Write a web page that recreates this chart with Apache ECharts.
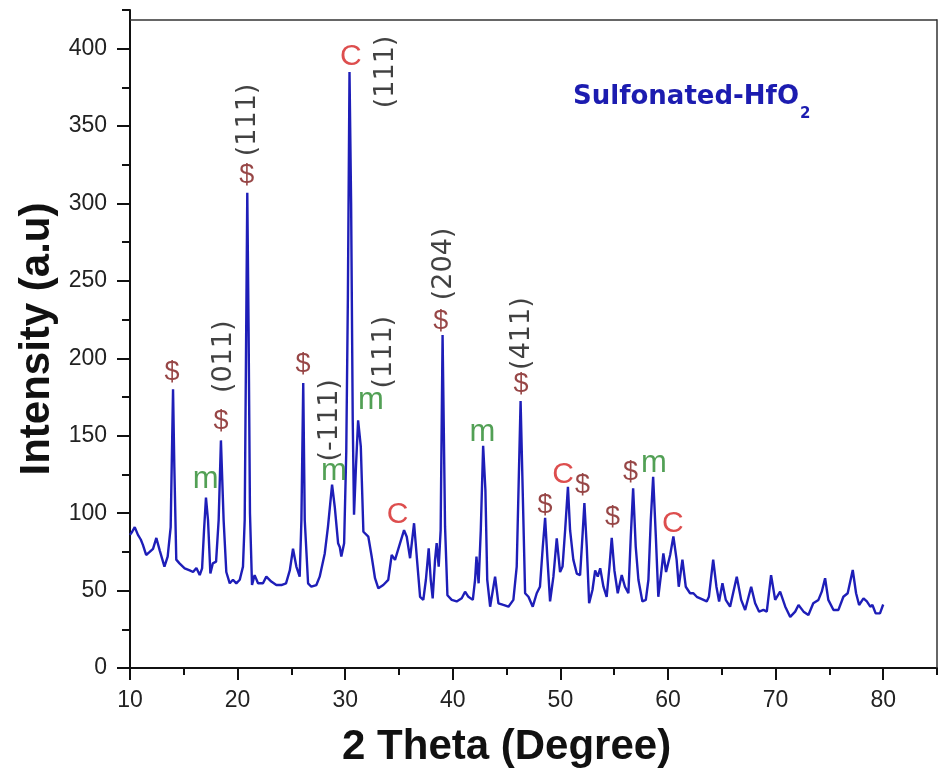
<!DOCTYPE html>
<html>
<head>
<meta charset="utf-8">
<script src="https://cdn.jsdelivr.net/npm/echarts@6.0.0/dist/echarts.min.js"></script>
<style>html,body{margin:0;padding:0;background:#fff;}#c{width:948px;height:775px;}</style>
</head>
<body>
<div id="c"></div>
<script>
// ---- Data ----
const twoTheta = [10.0,10.2,10.44,10.74,11.0,11.2,11.5,11.83,12.14,12.45,12.76,13.2,13.5,13.78,13.9,14.0,14.12,14.3,14.6,15.08,15.55,15.86,16.17,16.48,16.7,16.88,17.06,17.25,17.47,17.7,18.0,18.24,18.45,18.7,18.95,19.27,19.57,19.88,20.2,20.5,20.66,20.8,20.9,21.02,21.15,21.34,21.58,21.9,22.36,22.67,23.13,23.6,24.07,24.5,24.85,25.15,25.46,25.77,25.93,26.1,26.24,26.55,26.85,27.32,27.63,28.1,28.4,28.78,29.03,29.34,29.5,29.64,29.9,30.1,30.25,30.4,30.55,30.7,30.82,31.0,31.2,31.45,31.69,32.15,32.46,32.77,33.08,33.54,34.0,34.32,34.63,35.1,35.47,35.72,36.03,36.4,36.65,36.96,37.26,37.5,37.76,37.95,38.13,38.35,38.5,38.69,38.87,39.05,39.28,39.5,39.9,40.36,40.83,41.14,41.45,41.86,42.07,42.2,42.4,42.6,42.82,43.03,43.2,43.47,43.93,44.24,44.7,45.17,45.63,45.94,46.3,46.56,46.72,47.03,47.43,47.8,48.1,48.36,48.58,48.8,49.04,49.35,49.66,49.97,50.2,50.45,50.7,50.9,51.2,51.52,51.83,52.05,52.23,52.45,52.67,52.98,53.23,53.47,53.7,54.0,54.3,54.56,54.77,55.02,55.33,55.7,56.0,56.32,56.54,56.76,57.0,57.25,57.62,57.94,58.18,58.4,58.62,58.87,59.1,59.36,59.57,59.82,60.2,60.5,60.8,61.0,61.34,61.65,62.05,62.36,62.67,62.99,63.3,63.6,63.8,64.2,64.5,64.75,65.06,65.37,65.77,66.39,66.8,67.17,67.73,68.1,68.47,68.87,69.18,69.58,69.96,70.42,70.9,71.36,71.82,72.13,72.6,73.05,73.5,73.98,74.29,74.6,74.9,75.38,75.84,76.3,76.7,77.17,77.48,77.76,78.17,78.48,78.8,79.0,79.3,79.7,80.0];
const intensity = [86,88,91,86,83,79.5,73,75,77,84,76,65.5,72,91,140,180,130,70,67.6,64.4,63,62,64.6,60,64.4,89,110,95.6,61,67.6,68.7,95.6,147,95.6,62,54.7,57,54.7,57,65.5,95.6,220,307,220,100,53.6,60,54.7,54.7,59,55.8,53.6,53.6,54.7,63,77,65.5,59,95.6,184,95.6,54.7,52.5,53.6,59,74,91.3,118.5,104,80.6,78,72,80.6,140,240,385,300,160,99,130,160,143,88,84.8,72,58,51.5,53.6,56.9,73,69.8,80.6,89,84.8,70.9,93.5,72,46,44,57,77.3,57,45,69.8,80.6,65.5,89,215,91.3,47,44,43,45,49.3,46,44,57,72,54.7,89,143.5,115,57,39.6,59,41.8,40.7,39.6,44,65.5,172.5,95.6,48.3,46,39.6,48.3,52.5,78,97,70,43,59,83.8,62,65.5,90,117,89,70,61,60,85,106.6,78.4,41.8,50.4,63,59,64.4,52.5,46,65.5,84,63,48.3,60,52.5,48.3,84.8,116,78.4,57,43,44,57,95.6,123.5,84.8,46,61,74,62,73,85,70,52.5,70,52.5,48.3,48.3,46,45,44,43,46,70,52.5,43,54.7,44,39.6,59,44,37.5,52.5,41.8,36.4,37.5,36.4,60,44,49.3,39.6,33,36.4,40.7,36.4,34.2,41.8,44,49.3,58,44,37.5,37.5,46,48.3,63.3,48.3,40.7,45,43,39.6,40.7,35.3,35.3,41];

// Peak markers: [2θ, intensity at label centre]
const dollarMarks = [[13.9,191],[18.46,159],[20.84,318],[26.08,196],[38.89,224],[46.34,183],[48.57,105],[52.05,118],[54.84,97],[56.51,126]];
const cMarks = [[30.52,395],[34.86,99],[50.24,125],[60.45,93]];
const mMarks = [[17.03,122],[28.96,127],[32.4,173],[42.76,152],[58.7,132]];
const hklLabels = [[18.7,201,'(011)'],[20.95,354,'(111)'],[28.6,160,'(-111)'],[33.6,204,'(111)'],[33.78,385,'(111)'],[39.2,261,'(204)'],[46.4,216,'(411)']];

// Axis ranges and ticks
const xMin = 10, xMax = 85, xLabelMax = 80, xMajor = 10, xMinor = 5;
const yMin = 0, yMax = 425, yLabelMax = 400, yMajor = 50, yMinor = 25;
const frameTop = 419;
const titleMain = 'Sulfonated-HfO', titleSub = '2';
const xName = '2 Theta (Degree)', yName = 'Intensity (a.u)';

// ---- Layout ----
const W = 948, H = 775;
const gLeft = 130, gRight = 11, gTop = 10, gBottom = 107;
const plotW = W - gLeft - gRight, plotH = H - gTop - gBottom;
const pxX = plotW / (xMax - xMin), pxY = plotH / (yMax - yMin);
const g2Width = (xLabelMax - xMin) * pxX;
const g2Height = (yLabelMax - yMin) * pxY;

const seriesData = twoTheta.map((t, i) => [t, intensity[i]]);

function labelSeries(points, text, color, size, family, rotate) {
  return {
    type: 'scatter', xAxisIndex: 0, yAxisIndex: 0, silent: true,
    symbolSize: 1, itemStyle: { color: 'rgba(0,0,0,0)' },
    data: points.map(p => [p[0], p[1], p[2] !== undefined ? p[2] : text]),
    label: {
      show: true, position: 'inside', rotate: rotate || 0,
      formatter: (p) => p.data[2],
      color: color, fontSize: size, fontFamily: family,
      align: 'center', verticalAlign: 'middle'
    },
    z: 5
  };
}

const axisBlack = '#111';
const chart = echarts.init(document.getElementById('c'), null, { renderer: 'canvas' });
chart.setOption({
  animation: false,
  backgroundColor: '#fff',
  textStyle: { fontFamily: 'Liberation Sans' },
  title: {
    left: 573, top: 84, padding: 0,
    text: '{a|' + titleMain + '}{b|' + titleSub + '}',
    textStyle: {
      rich: {
        a: { fontFamily: 'DejaVu Sans', fontWeight: 'bold', fontSize: 26, lineHeight: 26, color: '#1c1cb0', verticalAlign: 'top' },
        b: { fontFamily: 'DejaVu Sans', fontWeight: 'bold', fontSize: 15, lineHeight: 15, color: '#1c1cb0', verticalAlign: 'top', padding: [23, 0, 0, 1] }
      }
    }
  },
  grid: [
    { left: gLeft, right: gRight, top: gTop, bottom: gBottom, containLabel: false, outerBoundsMode: 'none' },
    { left: gLeft, width: g2Width, top: H - gBottom - g2Height, height: g2Height, containLabel: false, outerBoundsMode: 'none' }
  ],
  xAxis: [
    { type: 'value', gridIndex: 0, min: xMin, max: xMax, interval: xMinor,
      axisLine: { show: true, onZero: false, lineStyle: { color: axisBlack, width: 2 } },
      axisTick: { show: true, inside: false, length: 7, lineStyle: { color: axisBlack, width: 2 } },
      axisLabel: { show: false }, splitLine: { show: false } },
    { type: 'value', gridIndex: 1, min: xMin, max: xLabelMax, interval: xMajor,
      axisLine: { show: false, onZero: false },
      axisTick: { show: true, inside: false, length: 12, lineStyle: { color: axisBlack, width: 2 } },
      axisLabel: { show: true, fontSize: 23, color: '#222', margin: 21, fontFamily: 'Liberation Sans' },
      splitLine: { show: false },
      name: xName, nameLocation: 'middle', nameGap: 58,
      nameTextStyle: { fontSize: 42, fontWeight: 'bold', color: axisBlack, fontFamily: 'Liberation Sans' } }
  ],
  yAxis: [
    { type: 'value', gridIndex: 0, min: yMin, max: yMax, interval: yMinor,
      axisLine: { show: true, onZero: false, lineStyle: { color: axisBlack, width: 2 } },
      axisTick: { show: true, inside: false, length: 8, lineStyle: { color: axisBlack, width: 2 } },
      axisLabel: { show: false }, splitLine: { show: false },
      name: yName, nameLocation: 'middle', nameGap: 72,
      nameTextStyle: { fontSize: 42, fontWeight: 'bold', color: axisBlack, fontFamily: 'Liberation Sans' } },
    { type: 'value', gridIndex: 1, min: yMin, max: yLabelMax, interval: yMajor,
      axisLine: { show: false, onZero: false },
      axisTick: { show: true, inside: false, length: 13, lineStyle: { color: axisBlack, width: 2 } },
      axisLabel: { show: true, fontSize: 23, color: '#222', margin: 23, fontFamily: 'Liberation Sans' },
      splitLine: { show: false } }
  ],
  series: [
    {
      type: 'line', xAxisIndex: 0, yAxisIndex: 0, data: seriesData,
      showSymbol: false, symbol: 'none', silent: true,
      lineStyle: { color: '#1e1eb8', width: 2.4 },
      z: 3,
      markLine: {
        silent: true, symbol: 'none', animation: false,
        label: { show: false },
        lineStyle: { color: '#333', width: 1.5, type: 'solid' },
        data: [
          [{ coord: [xMin, frameTop] }, { coord: [xMax, frameTop] }],
          [{ coord: [xMax, yMin] }, { coord: [xMax, frameTop] }]
        ]
      }
    },
    labelSeries(dollarMarks, '$', '#7d1818', 27, 'Liberation Sans', 0),
    labelSeries(cMarks, 'C', '#d42222', 30, 'Liberation Sans', 0),
    labelSeries(mMarks, 'm', '#27882a', 31, 'Liberation Sans', 0),
    labelSeries(hklLabels, '', '#111111', 27, 'DejaVu Sans', 90)
  ]
});
</script>
</body>
</html>
